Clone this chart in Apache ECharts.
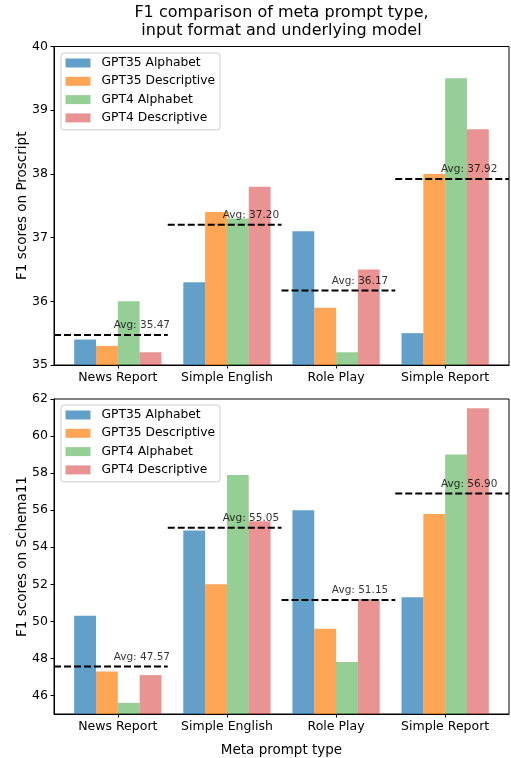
<!DOCTYPE html>
<html lang="en">
<head>
<meta charset="UTF-8">
<title>F1 comparison</title>
<style>
    html, body { margin: 0; padding: 0; background: #fff; }
    #main { width: 511px; height: 758px; }
</style>
</head>
<body>
<div id="main"></div>
<script src="https://cdn.jsdelivr.net/npm/echarts@6/dist/echarts.min.js"></script>
<script>
    // categories and series
    const categories = ['News Report', 'Simple English', 'Role Play', 'Simple Report'];
    const seriesNames = ['GPT35 Alphabet', 'GPT35 Descriptive', 'GPT4 Alphabet', 'GPT4 Descriptive'];

    // F1 on Proscript (top panel)
    const proGpt35Alpha = [35.4, 36.3, 37.1, 35.5];
    const proGpt35Desc = [35.3, 37.4, 35.9, 38.0];
    const proGpt4Alpha = [36.0, 37.3, 35.2, 39.5];
    const proGpt4Desc = [35.2, 37.8, 36.5, 38.7];
    const proAvg = [35.47, 37.20, 36.17, 37.92];

    // F1 on Schema11 (bottom panel)
    const schGpt35Alpha = [50.3, 54.9, 56.0, 51.3];
    const schGpt35Desc = [47.3, 52.0, 49.6, 55.8];
    const schGpt4Alpha = [45.6, 57.9, 47.8, 59.0];
    const schGpt4Desc = [47.1, 55.4, 51.2, 61.5];
    const schAvg = [47.57, 55.05, 51.15, 56.90];

    // tick labels
    const topTicks = [35, 36, 37, 38, 39, 40];
    const bottomTicks = [46, 48, 50, 52, 54, 56, 58, 60, 62];

    const colors = [
        'rgba(31,119,180,0.7)',
        'rgba(255,127,14,0.7)',
        'rgba(44,160,44,0.5)',
        'rgba(214,39,40,0.5)'
    ];
    const FONT = 'DejaVu Sans';
    const X_MIN = -0.585, X_MAX = 3.585;
    const catIdx = categories.map((c, i) => i);

    function xAxisFor(gridIndex, withName) {
        return {
            type: 'value', gridIndex: gridIndex, min: X_MIN, max: X_MAX,
            splitLine: {show: false},
            axisLine: {onZero: false, lineStyle: {color: '#000', width: 1}},
            axisTick: {show: true, length: 3.5, customValues: catIdx, lineStyle: {color: '#000'}},
            axisLabel: {
                customValues: catIdx, margin: 6, color: '#000', fontSize: 12.5, fontFamily: FONT,
                formatter: v => categories[Math.round(v)]
            },
            name: withName ? 'Meta prompt type' : '',
            nameLocation: 'middle', nameGap: 29, nameMoveOverlap: false,
            nameTextStyle: {color: '#000', fontSize: 13.5, fontFamily: FONT}
        };
    }

    function yAxisFor(gridIndex, name, min, max, ticks) {
        return {
            type: 'value', gridIndex: gridIndex, min: min, max: max,
            splitLine: {show: false},
            axisLine: {show: true, onZero: false, lineStyle: {color: '#000', width: 1}},
            axisTick: {show: true, length: 3.5, customValues: ticks, lineStyle: {color: '#000'}},
            axisLabel: {customValues: ticks, margin: 6, color: '#000', fontSize: 12.5, fontFamily: FONT},
            name: name, nameLocation: 'middle', nameGap: 25, nameMoveOverlap: false,
            nameTextStyle: {color: '#000', fontSize: 13.5, fontFamily: FONT}
        };
    }

    function panelSeries(p, groups, avg) {
        const out = [];
        groups.forEach((vals, k) => {
            out.push({
                name: seriesNames[k], type: 'bar', xAxisIndex: p, yAxisIndex: p,
                barGap: '0%', barCategoryGap: '20%',
                itemStyle: {color: colors[k]},
                data: vals.map((v, i) => [i, v])
            });
        });
        // dashed average line: each spans one quarter of the axes width
        const q = (X_MAX - X_MIN) / categories.length;
        avg.forEach((a, i) => {
            out.push({
                type: 'line', xAxisIndex: p, yAxisIndex: p, symbol: 'none', silent: true,
                lineStyle: {color: '#000', width: 2, type: [7, 3]},
                data: [[X_MIN + q * i, a], [X_MIN + q * (i + 1), a]],
                z: 5
            });
        });
        out.push({
            type: 'scatter', xAxisIndex: p, yAxisIndex: p, symbolSize: 0, silent: true,
            data: avg.map((a, i) => [i + 0.22, a]),
            label: {
                show: true, position: 'top', distance: 4,
                color: '#000', fontSize: 10.5, fontFamily: FONT,
                formatter: d => 'Avg: ' + d.value[1].toFixed(2)
            },
            z: 6
        });
        return out;
    }

    function legendFor(top) {
        return {
            data: seriesNames, orient: 'vertical', left: 61, top: top,
            icon: 'rect', itemWidth: 25, itemHeight: 9, itemGap: 4.3,
            padding: [3, 5, 5, 4.5],
            backgroundColor: 'rgba(255,255,255,0.8)',
            borderColor: '#cccccc', borderWidth: 1, borderRadius: 3,
            textStyle: {color: '#000', fontSize: 12.3, fontFamily: FONT, lineHeight: 14, padding: [0, 0, 0, 6]}
        };
    }

    const myChart = echarts.init(document.getElementById('main'));
    const option = {
        animation: false,
        title: {
            text: 'F1 comparison of meta prompt type,\ninput format and underlying model',
            left: 281.5, top: 4, textAlign: 'center', padding: 0,
            textStyle: {color: '#000', fontSize: 16, fontWeight: 'normal', fontFamily: FONT, lineHeight: 18}
        },
        legend: [legendFor(53), legendFor(405)],
        grid: [
            {left: 54, right: 2, top: 46.5, height: 318.5, show: true, borderColor: '#000', borderWidth: 1},
            {left: 54, right: 2, top: 399, height: 317, show: true, borderColor: '#000', borderWidth: 1}
        ],
        xAxis: [xAxisFor(0, false), xAxisFor(1, true)],
        yAxis: [
            yAxisFor(0, 'F1 scores on Proscript', 35, 40, topTicks),
            yAxisFor(1, 'F1 scores on Schema11', 45, 62, bottomTicks)
        ],
        series: [].concat(
            panelSeries(0, [proGpt35Alpha, proGpt35Desc, proGpt4Alpha, proGpt4Desc], proAvg),
            panelSeries(1, [schGpt35Alpha, schGpt35Desc, schGpt4Alpha, schGpt4Desc], schAvg)
        )
    };
    myChart.setOption(option);
</script>
</body>
</html>
